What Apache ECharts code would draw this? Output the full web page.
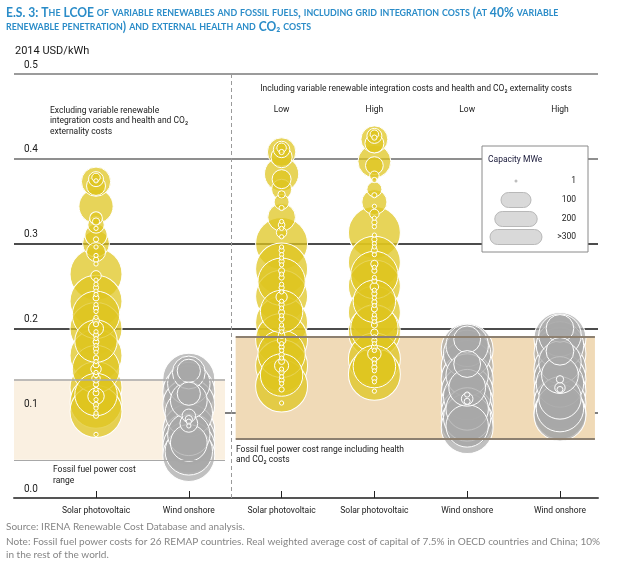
<!DOCTYPE html>
<html><head><meta charset="utf-8">
<script src="https://cdn.jsdelivr.net/npm/echarts@6/dist/echarts.min.js"></script>
<style>html,body{margin:0;padding:0;background:#fff}#c{width:629px;height:575px}</style>
</head><body><div id="c"></div>
<script>
// ---------- DATA ----------
const categories = ['Solar photovoltaic', 'Wind onshore', 'Solar photovoltaic', 'Solar photovoltaic', 'Wind onshore', 'Wind onshore'];
const scenarios = ['', '', 'Low', 'High', 'Low', 'High'];
const technology = ['solar', 'wind', 'solar', 'solar', 'wind', 'wind'];
const yTickValues = [0, 0.1, 0.2, 0.3, 0.4, 0.5];

// [LCOE 2014 USD/kWh, capacity MWe]
const solarExcl = [
  [0.373, 95], [0.376, 25], [0.378, 8], [0.374, 2], [0.368, 40],
  [0.344, 130],
  [0.330, 18], [0.326, 6], [0.322, 30], [0.318, 2], [0.310, 55], [0.305, 3], [0.300, 80], [0.296, 2], [0.290, 40], [0.286, 2], [0.281, 3], [0.276, 2],
  [0.264, 300], [0.262, 12], [0.257, 2], [0.252, 2], [0.248, 3], [0.244, 2], [0.240, 2], [0.236, 4],
  [0.232, 300], [0.228, 2], [0.224, 3], [0.220, 2], [0.216, 250], [0.213, 2], [0.209, 5], [0.205, 3],
  [0.200, 300], [0.200, 25], [0.196, 2], [0.192, 3], [0.188, 2], [0.185, 200], [0.184, 4], [0.180, 2], [0.176, 3], [0.172, 2],
  [0.168, 300], [0.165, 3], [0.161, 2], [0.157, 4], [0.152, 250], [0.152, 12], [0.148, 2], [0.145, 3], [0.141, 8], [0.138, 2], [0.134, 3],
  [0.130, 300], [0.128, 2], [0.124, 4], [0.122, 200], [0.120, 30], [0.116, 2], [0.113, 300], [0.110, 3], [0.106, 2], [0.102, 300], [0.100, 2], [0.097, 3],
  [0.075, 2]
];
const windExcl = [
  [0.140, 300], [0.150, 60], [0.148, 120], [0.135, 200], [0.123, 60], [0.125, 300], [0.115, 150], [0.110, 300],
  [0.100, 250], [0.097, 20], [0.093, 6], [0.090, 3], [0.088, 35], [0.085, 2], [0.080, 300], [0.075, 200],
  [0.070, 300], [0.065, 150], [0.060, 300], [0.055, 250], [0.050, 300]
];
const solarLow = [
  [0.408, 90], [0.411, 30], [0.413, 10], [0.408, 3], [0.402, 50],
  [0.382, 130], [0.376, 40],
  [0.364, 45], [0.358, 6], [0.349, 25], [0.342, 3],
  [0.331, 85], [0.326, 2], [0.322, 5], [0.318, 2], [0.313, 12], [0.308, 2],
  [0.300, 300], [0.296, 2], [0.292, 3], [0.287, 2], [0.283, 2], [0.279, 3], [0.275, 2],
  [0.270, 300], [0.268, 4], [0.264, 2], [0.260, 3], [0.255, 250], [0.252, 2], [0.248, 3], [0.243, 2],
  [0.238, 300], [0.237, 14], [0.232, 2], [0.228, 3], [0.224, 2], [0.220, 200], [0.219, 4], [0.215, 2], [0.211, 3],
  [0.207, 300], [0.204, 2], [0.200, 3], [0.196, 2], [0.192, 5], [0.187, 300], [0.186, 8], [0.182, 2], [0.178, 3], [0.174, 2], [0.170, 250], [0.169, 3], [0.165, 2], [0.161, 4],
  [0.156, 300], [0.156, 22], [0.152, 2], [0.148, 3], [0.145, 200], [0.143, 2], [0.139, 3], [0.135, 2],
  [0.132, 300], [0.128, 3], [0.112, 2]
];
const solarHigh = [
  [0.423, 80], [0.427, 25], [0.429, 8], [0.425, 3], [0.418, 40],
  [0.397, 120], [0.392, 35],
  [0.380, 10], [0.375, 3], [0.364, 25], [0.357, 3], [0.349, 70], [0.344, 2], [0.335, 10], [0.330, 2], [0.325, 3], [0.320, 2],
  [0.313, 300], [0.310, 2], [0.305, 3], [0.300, 2], [0.296, 2], [0.292, 4], [0.287, 2],
  [0.278, 300], [0.276, 6], [0.272, 2], [0.268, 3], [0.263, 250], [0.260, 2], [0.256, 3],
  [0.250, 300], [0.249, 8], [0.245, 2], [0.241, 3], [0.236, 2], [0.232, 200], [0.231, 3], [0.227, 2], [0.223, 4],
  [0.219, 300], [0.216, 2], [0.212, 3], [0.208, 2], [0.204, 4], [0.200, 250], [0.196, 300], [0.195, 6], [0.190, 2], [0.186, 3], [0.182, 2], [0.178, 4], [0.174, 2],
  [0.170, 20], [0.164, 300], [0.163, 3], [0.159, 2], [0.155, 200], [0.154, 3], [0.150, 2],
  [0.146, 300], [0.141, 3], [0.137, 2], [0.126, 2]
];
const windLow = [
  [0.175, 300], [0.187, 80], [0.180, 200], [0.170, 250], [0.158, 80], [0.155, 300], [0.145, 200], [0.140, 300],
  [0.130, 150], [0.125, 300], [0.120, 250], [0.117, 15], [0.114, 4], [0.122, 3], [0.112, 300], [0.105, 200],
  [0.100, 300], [0.095, 250], [0.090, 300], [0.085, 200], [0.083, 300]
];
const windHigh = [
  [0.188, 300], [0.200, 85], [0.192, 200], [0.180, 250], [0.173, 85], [0.170, 300], [0.160, 200], [0.152, 300],
  [0.145, 150], [0.140, 300], [0.140, 6], [0.135, 250], [0.130, 12], [0.128, 4], [0.126, 300], [0.118, 200],
  [0.112, 300], [0.106, 250], [0.100, 300], [0.098, 300]
];
const columns = [solarExcl, windExcl, solarLow, solarHigh, windLow, windHigh];

const fossilRange = [0.045, 0.14];          // excluding externalities
const fossilRangeHealth = [0.07, 0.19];     // including health and CO2 costs
const legendCaps = [1, 100, 200, 300];
const legendLabels = ['1', '100', '200', '>300'];

// ---------- STYLE / LAYOUT ----------
const NARROW = "Roboto, 'Lato', sans-serif";
const TITLEFONT = "Lato, sans-serif";
const TEXT = '#1a1a1a';
const BLUE = '#2a8cc8';
const fills = { solar: 'rgba(223,197,31,0.74)', wind: 'rgba(168,168,168,0.72)' };
const sizeOf = c => 3 * Math.sqrt(Math.min(c, 300));
const X_MIN = -0.884, X_MAX = 5.41;

function smallCaps(s) {
  return s.replace(/([a-z]+)|([^a-z]+)/g, (m, lo, up) => lo ? '{s|' + lo.toUpperCase() + '}' : '{b|' + up + '}');
}
const titleLine1 = '{b|E.S. 3: }' + smallCaps('The LCOE of variable renewables and fossil fuels, including grid integration costs (at 40% variable');
const titleLine2 = smallCaps('renewable penetration) and external health and CO₂ costs');

const chart = echarts.init(document.getElementById('c'), null, { renderer: 'canvas' });

const scatterSeries = columns.map((col, i) => ({
  type: 'scatter',
  silent: true,
  z: 3,
  data: col.map(p => [i, p[0], p[1]]).sort((a, b) => b[2] - a[2]),
  symbolSize: d => sizeOf(d[2]),
  itemStyle: { color: fills[technology[i]], borderColor: '#ffffff', borderWidth: 1, opacity: 1 }
}));

const bandSeries = {
  type: 'line', data: [], z: 0, silent: true,
  markArea: {
    silent: true,
    data: [
      [{ xAxis: X_MIN, yAxis: fossilRange[0], itemStyle: { color: '#faf0e1' } }, { xAxis: 1.39, yAxis: fossilRange[1] }],
      [{ xAxis: 1.505, yAxis: fossilRangeHealth[0], itemStyle: { color: '#f0dab7' } }, { xAxis: 5.377, yAxis: fossilRangeHealth[1] }]
    ]
  }
};
const edgeSeries = {
  type: 'line', data: [], z: 2, silent: true,
  markLine: {
    silent: true, symbol: 'none', label: { show: false },
    data: [
      [{ coord: [X_MIN, fossilRange[1]], lineStyle: { color: '#a8a8a8', width: 1.5, type: 'solid' } }, { coord: [1.39, fossilRange[1]] }],
      [{ coord: [X_MIN, fossilRange[0]], lineStyle: { color: '#a8a8a8', width: 1, type: 'solid' } }, { coord: [1.39, fossilRange[0]] }],
      [{ coord: [1.505, fossilRangeHealth[1]], lineStyle: { color: '#8d8070', width: 2, type: 'solid' } }, { coord: [5.377, fossilRangeHealth[1]] }],
      [{ coord: [1.505, fossilRangeHealth[0]], lineStyle: { color: '#8d8070', width: 2, type: 'solid' } }, { coord: [5.377, fossilRangeHealth[0]] }],
      [{ coord: [1.455, 0], lineStyle: { color: '#9a9a9a', width: 1, type: [4, 3] } }, { coord: [1.455, 0.5] }]
    ]
  }
};

chart.setOption({
  animation: false,
  backgroundColor: '#ffffff',
  grid: { left: 14, right: 31, top: 74, bottom: 77 },
  xAxis: {
    type: 'value', min: X_MIN, max: X_MAX, z: 1,
    axisLine: { show: true, onZero: false, lineStyle: { color: '#555', width: 2 } },
    axisTick: { show: true, inside: true, length: 7, customValues: [0, 1, 2, 3, 4, 5], lineStyle: { color: '#222', width: 1 } },
    axisLabel: { customValues: [0, 1, 2, 3, 4, 5], formatter: v => categories[Math.round(v)] || '', margin: 8, fontSize: 8.5, color: TEXT, fontFamily: NARROW },
    splitLine: { show: false }
  },
  yAxis: {
    type: 'value', min: yTickValues[0], max: yTickValues[yTickValues.length - 1], interval: 0.1, z: 1,
    axisLine: { show: false }, axisTick: { show: false },
    axisLabel: { inside: true, margin: 10, verticalAlign: 'bottom', padding: [0, 0, 4, 0], formatter: v => v.toFixed(1), color: TEXT, fontSize: 10, fontFamily: NARROW },
    splitLine: { lineStyle: { color: ['#444', '#555', '#111', '#111', '#6a6a6a', '#7a7a7a'], width: 1.5 } }
  },
  series: [bandSeries, edgeSeries].concat(scatterSeries)
});

// ---------- annotations (positions from the chart's own scale) ----------
const px = i => chart.convertToPixel({ xAxisIndex: 0 }, i);
const txt = (x, y, text, extra) => Object.assign({ type: 'text', x: x, y: y, z: 50, silent: true,
  style: Object.assign({ text: text, fill: TEXT, font: '8.5px ' + NARROW, textVerticalAlign: 'middle', lineHeight: 10.5 }, extra || {}) });

const titleRich = {
  b: { fontFamily: TITLEFONT, fontSize: 13, fontWeight: 'bold', fill: BLUE, color: BLUE },
  s: { fontFamily: TITLEFONT, fontSize: 9.5, fontWeight: 'bold', fill: BLUE, color: BLUE }
};
const graphics = [];
graphics.push({ type: 'text', x: 6, y: 13, scaleX: 0.93, z: 50, silent: true,
  style: { text: titleLine1, rich: titleRich, textVerticalAlign: 'middle', fill: BLUE } });
graphics.push({ type: 'text', x: 6, y: 27, scaleX: 0.93, z: 50, silent: true,
  style: { text: titleLine2, rich: titleRich, textVerticalAlign: 'middle', fill: BLUE } });
graphics.push(txt(15, 51, '2014 USD/kWh', { font: '11px ' + NARROW }));

scenarios.forEach((s, i) => { if (s) graphics.push(txt(px(i), 110, s, { textAlign: 'center' })); });
graphics.push(txt(50, 121, 'Excluding variable renewable\nintegration costs and health and CO₂\nexternality costs', { lineHeight: 10.5 }));
graphics.push(txt(416, 89, 'Including variable renewable integration costs and health and CO₂ externality costs', { textAlign: 'center' }));
graphics.push(txt(236, 455, 'Fossil fuel power cost range including health\nand CO₂ costs'));
graphics.push(txt(53, 475.5, 'Fossil fuel power cost\nrange', { lineHeight: 11 }));
graphics.push(txt(6, 527, 'Source: IRENA Renewable Cost Database and analysis.', { font: '10px Lato, sans-serif', fill: '#858585' }));
graphics.push(txt(6, 548, 'Note: Fossil fuel power costs for 26 REMAP countries. Real weighted average cost of capital of 7.5% in OECD countries and China; 10%\nin the rest of the world.', { font: '10px Lato, sans-serif', fill: '#858585', lineHeight: 13 }));

// capacity legend
const legendBox = { x: 482, y: 146, w: 106, h: 106 };
const legendRowY = [181, 200, 219, 237];
const legendCx = 516;
graphics.push({ type: 'rect', z: 40, silent: true, shape: { x: legendBox.x, y: legendBox.y, width: legendBox.w, height: legendBox.h },
  style: { fill: '#ffffff', stroke: '#8a8a8a', lineWidth: 1 } });
graphics.push(txt(488, 160, 'Capacity MWe', { fill: '#1a1a3a' }));
legendCaps.forEach((c, k) => {
  const w = sizeOf(c), h = Math.min(w, 15);
  if (c === 1) {
    graphics.push({ type: 'circle', z: 51, silent: true, shape: { cx: legendCx, cy: legendRowY[k], r: w / 2 }, style: { fill: '#bdbdbd' } });
  } else {
    graphics.push({ type: 'rect', z: 51, silent: true, shape: { x: legendCx - w / 2, y: legendRowY[k] - h / 2, width: w, height: h, r: h / 2 },
      style: { fill: '#d9d9d9', stroke: '#b8b8b8', lineWidth: 1 } });
  }
  graphics.push(txt(576, legendRowY[k], legendLabels[k], { textAlign: 'right' }));
});

chart.setOption({ graphic: { elements: graphics } });
</script>
</body></html>
